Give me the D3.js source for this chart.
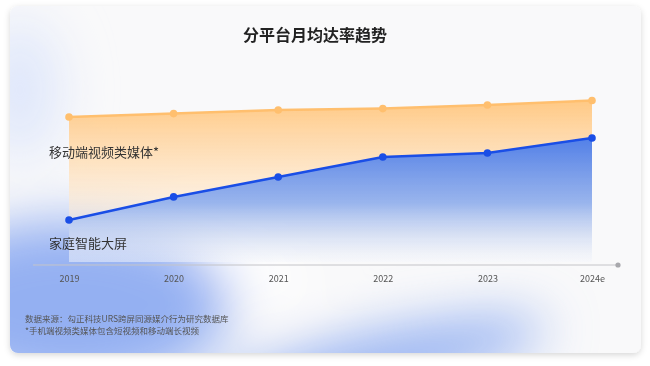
<!DOCTYPE html>
<html><head><meta charset="utf-8">
<script src="https://cdn.jsdelivr.net/npm/d3@7"></script>
<style>
html,body{margin:0;padding:0;background:#fff;}
svg{display:block;font-family:"Noto Sans CJK SC","Noto Sans",sans-serif;}
</style></head>
<body><svg id="c" width="650" height="366"></svg>
<script>
const years = ["2019","2020","2021","2022","2023","2024e"];
const mobileVideo = [75.5, 77.3, 79.2, 79.9, 81.8, 84.1];
const smartTV = [21.9, 33.9, 44.3, 54.7, 56.8, 64.6];
const title = "分平台月均达率趋势";
const seriesLabels = ["移动端视频类媒体*", "家庭智能大屏"];
const notes = ["数据来源：勾正科技URS跨屏同源媒介行为研究数据库", "*手机端视频类媒体包含短视频和移动端长视频"];

const svg = d3.select("#c");
const defs = svg.append("defs");

const f = defs.append("filter").attr("id","sh").attr("x","-10%").attr("y","-10%").attr("width","120%").attr("height","130%");
f.append("feDropShadow").attr("dx",0).attr("dy",2).attr("stdDeviation",3).attr("flood-color","#000").attr("flood-opacity",0.16);
const blur = defs.append("filter").attr("id","blur").attr("x","-50%").attr("y","-50%").attr("width","200%").attr("height","200%");
blur.append("feGaussianBlur").attr("stdDeviation",26);

const clip = defs.append("clipPath").attr("id","cardclip");
clip.append("rect").attr("x",10).attr("y",6).attr("width",631).attr("height",347).attr("rx",8);

svg.append("rect").attr("x",10).attr("y",6).attr("width",631).attr("height",347).attr("rx",8)
  .attr("fill","#f9f9fa").attr("filter","url(#sh)");
const card = svg.append("g").attr("clip-path","url(#cardclip)");
const blobs = card.append("g").attr("filter","url(#blur)");
blobs.append("ellipse").attr("cx",70).attr("cy",305).attr("rx",160).attr("ry",85).attr("fill","#94b0f2");
blobs.append("ellipse").attr("cx",20).attr("cy",90).attr("rx",40).attr("ry",70).attr("fill","#dfe7fb");
blobs.append("ellipse").attr("cx",380).attr("cy",362).attr("rx",170).attr("ry",28).attr("fill","#90adf1")
  .attr("transform","rotate(-12,380,362)");
blobs.append("ellipse").attr("cx",255).attr("cy",265).attr("rx",65).attr("ry",30).attr("fill","#ffffff").attr("opacity",0.8)
  .attr("transform","rotate(30,255,265)");

const x = d3.scalePoint().domain(years).range([69, 592]);
const y = d3.scaleLinear().domain([0, 100]).range([262, 70]);

const og = defs.append("linearGradient").attr("id","og").attr("x1",0).attr("y1",0).attr("x2",0).attr("y2",1);
og.append("stop").attr("offset","0%").attr("stop-color","#ffc67e").attr("stop-opacity",0.95);
og.append("stop").attr("offset","55%").attr("stop-color","#ffe6c8").attr("stop-opacity",0.7);
og.append("stop").attr("offset","100%").attr("stop-color","#fff4e6").attr("stop-opacity",0.1);
const bg = defs.append("linearGradient").attr("id","bg").attr("gradientUnits","userSpaceOnUse")
  .attr("x1",0).attr("y1",y(68)).attr("x2",0).attr("y2",262);
bg.append("stop").attr("offset","0%").attr("stop-color","#4a7ae8");
bg.append("stop").attr("offset","55%").attr("stop-color","#8eaeee").attr("stop-opacity",0.9);
bg.append("stop").attr("offset","100%").attr("stop-color","#f4f7fd").attr("stop-opacity",0.45);

const area = d3.area().x((d,i)=>x(years[i])).y0(y(0)).y1(d=>y(d));
const line = d3.line().x((d,i)=>x(years[i])).y(d=>y(d));

svg.append("path").datum(mobileVideo).attr("d",area).attr("fill","url(#og)");
svg.append("path").datum(smartTV).attr("d",area).attr("fill","url(#bg)");

svg.append("path").datum(mobileVideo).attr("d",line).attr("fill","none").attr("stroke","#ffbf6e").attr("stroke-width",2.5);
svg.selectAll(".po").data(mobileVideo).join("circle").attr("cx",(d,i)=>x(years[i])).attr("cy",d=>y(d)).attr("r",3.8).attr("fill","#ffbf6e");
svg.append("path").datum(smartTV).attr("d",line).attr("fill","none").attr("stroke","#1a4ee6").attr("stroke-width",2.5);
svg.selectAll(".pb").data(smartTV).join("circle").attr("cx",(d,i)=>x(years[i])).attr("cy",d=>y(d)).attr("r",3.8).attr("fill","#1a4ee6");

const ax = svg.append("g").attr("transform","translate(0,265)")
  .call(d3.axisBottom(x).tickSize(0).tickPadding(11));
ax.select(".domain").remove();
ax.append("line").attr("x1",33).attr("x2",618).attr("stroke","#c4c4c8").attr("stroke-width",1);
ax.append("circle").attr("cx",618).attr("cy",0).attr("r",2.6).attr("fill","#a8a8ac");
ax.selectAll(".tick text").attr("font-size",9).attr("fill","#555").attr("font-family","'Noto Sans CJK SC',sans-serif");

svg.append("text").attr("x",315).attr("y",41).attr("text-anchor","middle").attr("font-size",16).attr("font-weight","bold").attr("fill","#222").text(title);
svg.append("text").attr("x",49).attr("y",157).attr("font-size",13).attr("fill","#333").text(seriesLabels[0]);
svg.append("text").attr("x",49).attr("y",248).attr("font-size",13).attr("fill","#333").text(seriesLabels[1]);
svg.selectAll(".note").data(notes).join("text").attr("x",25).attr("y",(d,i)=>322+i*12).attr("font-size",8.5).attr("fill","#555").text(d=>d);
</script></body></html>
